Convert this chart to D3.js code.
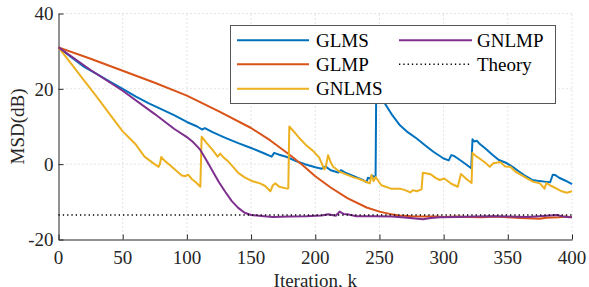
<!DOCTYPE html>
<html><head><meta charset="utf-8">
<script src="https://cdn.jsdelivr.net/npm/d3@7"></script>
<style>body{margin:0;background:#fff}svg{display:block}</style>
</head><body><svg id="c" width="589" height="287"></svg>
<script>
const xTicks = [0,50,100,150,200,250,300,350,400];
const yTicks = [-20,0,20,40];
const seriesNames = ["GLMS","GLMP","GNLMS","GNLMP"];
const theoryLevel = -13.5;

const glms = [[0,31],[10,28.4],[20,25.8],[30,23.9],[40,21.9],[50,20.0],[60,18.0],[70,16.2],[80,14.6],[90,13.0],[100,11.2],[108,10.0],[112,9.2],[114,9.6],[120,8.5],[130,7.0],[140,5.6],[150,4.3],[160,2.9],[166,2.0],[168,3.0],[172,2.5],[178,1.9],[185,0.8],[192,0.0],[200,-0.8],[205,-1.2],[208,-0.6],[212,-1.6],[218,-2.2],[220,-1.6],[223,-2.2],[230,-3.2],[237,-4.2],[240,-4.8],[241,-3.6],[243,-3.8],[244,-3.0],[246,-3.4],[247,-3.2],[247.5,20],[254.5,16],[260,13],[266,10.3],[272,8.5],[279,6.8],[286,4.9],[292,3.3],[300,1.5],[304,1.0],[306,2.4],[308,2.2],[311,1.5],[316,0.3],[321.5,-1.1],[322.5,6.6],[324,6.0],[326,6.2],[328,5.4],[333,4.0],[338,2.5],[343,1.1],[349,0.3],[354,-0.8],[359,-2.0],[364,-3.2],[369,-4.2],[375,-4.5],[380,-4.7],[383,-4.8],[385,-2.8],[387,-2.9],[390,-3.6],[395,-4.4],[400,-5.3]];

const glmp = [[0,31],[25,28],[50,24.8],[75,21.6],[100,18.2],[125,14],[150,9.6],[165,6.3],[180,2.5],[190,-0.2],[200,-3.2],[212,-6.2],[225,-9.0],[240,-11.5],[250,-12.6],[258,-13.2],[265,-13.6],[275,-13.8],[285,-13.9],[295,-13.9],[300,-14.0],[310,-13.9],[320,-14.0],[330,-14.1],[340,-13.9],[350,-14.1],[360,-14.3],[370,-14.4],[375,-14.5],[380,-14.2],[390,-14.1],[395,-13.9],[400,-14.1]];

const gnlms = [[0,31],[10,26.6],[20,22.2],[30,17.8],[40,13.2],[50,8.7],[55,7.0],[60,5.3],[67,2.0],[74,0.2],[78,-0.7],[79,0.0],[80,1.9],[83,0.8],[86,0.0],[90,-1.2],[96,-3.0],[99,-3.2],[101,-2.8],[104,-4.0],[107,-4.8],[110.5,-6.0],[111.5,7.3],[115,5.8],[120,3.8],[124,2.0],[126,2.8],[128,2.0],[132,0.8],[136,-0.7],[140,-2.3],[145,-3.5],[150,-4.4],[157,-5.1],[161,-5.8],[165,-7.2],[167,-5.6],[169,-5.1],[172,-6.0],[178,-6.5],[179,-6.4],[179.8,10.0],[184,8.4],[188,6.8],[193,5.0],[198,3.6],[203,1.8],[207,-1.4],[208,-1.0],[210,2.4],[212,0.5],[214,-0.7],[219,-2.0],[224,-2.7],[230,-3.5],[234,-3.9],[239,-4.6],[242.5,-5.1],[243.8,-2.9],[245.5,-4.5],[247,-3.4],[251.5,-5.6],[259,-6.5],[266,-6.5],[270,-6.9],[274,-7.5],[276,-6.9],[279,-7.2],[282.8,-6.7],[283.8,-2.3],[287,-2.5],[290,-2.7],[294,-3.7],[297,-4.2],[300.5,-3.8],[306,-5.2],[311,-6.0],[313.5,-2.6],[318,-4.0],[321.8,-5.0],[322.5,3.0],[325,2.2],[328,1.5],[332,0.5],[336,-0.7],[339,0.3],[341,0.4],[344,0.6],[348,-0.6],[352,-0.7],[356,-2.0],[360,-2.8],[365,-3.8],[370,-4.7],[375,-5.1],[378.6,-6.5],[380,-5.0],[384,-5.8],[388,-6.5],[392,-7.2],[396,-7.6],[400,-7.2]];

const gnlmp = [[0,31],[25,25],[50,19.5],[75,13.3],[90,9.4],[100,7.2],[105,5.8],[110,4.0],[115,1.2],[120,-1.8],[125,-4.8],[130,-7.4],[135,-9.8],[140,-11.6],[145,-12.9],[150,-13.5],[160,-13.8],[167,-14.0],[180,-13.9],[193,-13.8],[205,-13.6],[210,-13.3],[216,-13.7],[219,-12.6],[222,-13.2],[225,-13.3],[232,-13.8],[245,-13.8],[260,-13.9],[272,-14.2],[284,-14.6],[290,-14.3],[297,-14.1],[310,-14.0],[325,-13.9],[336,-13.8],[350,-13.9],[365,-14.0],[375,-13.8],[388,-13.5],[393,-13.9],[398,-14.1],[400,-14.0]];

const colors = ["#0072BD","#D95319","#EDB120","#7E2F8E"];
const allSeries = [glms, glmp, gnlms, gnlmp];
const FONT = '"Liberation Serif", serif';
const FS = 19;

const svg = d3.select("#c");
const x = d3.scaleLinear().domain([0,400]).range([58.5,572]);
const y = d3.scaleLinear().domain([-20,40]).range([239.5,13.5]);

function addText(parent, tx, ty, str, anchor, fill){
  return parent.append("text").attr("x",tx).attr("y",ty).attr("font-size",FS)
    .attr("text-anchor",anchor).attr("fill",fill).style("font-family",FONT).text(str);
}

// grid
const grid = svg.append("g").attr("stroke","#c8c8c8").attr("stroke-width",1).attr("stroke-dasharray","1,3");
xTicks.filter(d=>d>0).forEach(t=>grid.append("line").attr("x1",x(t)).attr("x2",x(t)).attr("y1",y(-20)).attr("y2",y(40)));
yTicks.filter(d=>d>-20).forEach(t=>grid.append("line").attr("x1",x(0)).attr("x2",x(400)).attr("y1",y(t)).attr("y2",y(t)));

// axes (lines and ticks from d3 axes, labels as plain text)
const xAxis = d3.axisBottom(x).tickValues(xTicks).tickSizeInner(-5).tickSizeOuter(0).tickFormat("");
const yAxis = d3.axisLeft(y).tickValues(yTicks).tickSizeInner(-5).tickSizeOuter(0).tickFormat("");
const gx = svg.append("g").attr("transform",`translate(0,${y(-20)})`).call(xAxis);
const gy = svg.append("g").attr("transform",`translate(${x(0)},0)`).call(yAxis);
[gx,gy].forEach(g=>{
  g.selectAll("text").remove();
  g.select(".domain").attr("stroke","#262626").attr("stroke-width",1);
  g.selectAll(".tick line").attr("stroke","#262626");
});
xTicks.forEach(t=>addText(svg, x(t), 263.5, String(t), "middle", "#262626"));
yTicks.forEach(t=>addText(svg, 53.5, y(t)+6.8, String(t), "end", "#262626"));

// lines
const line = d3.line().x(d=>x(d[0])).y(d=>y(d[1]));
allSeries.forEach((s,i)=>{
  svg.append("path").datum(s).attr("d",line).attr("fill","none").attr("stroke",colors[i]).attr("stroke-width",2).attr("stroke-linejoin","round");
});
svg.append("line").attr("x1",x(0)).attr("x2",x(400)).attr("y1",y(theoryLevel)).attr("y2",y(theoryLevel))
  .attr("stroke","#000").attr("stroke-width",1.5).attr("stroke-dasharray","1.3,3");

// labels
addText(svg, (x(0)+x(400))/2, 286.5, "Iteration, k", "middle", "#262626");
addText(svg, 0, 0, "MSD(dB)", "middle", "#262626").attr("transform",`translate(23.5,${(y(-20)+y(40))/2}) rotate(-90)`);

// legend
const lg = svg.append("g");
lg.append("rect").attr("x",230.5).attr("y",25.5).attr("width",325).attr("height",78).attr("fill","#fff").attr("stroke","#555").attr("stroke-width",1);
const entries = [
  {name:seriesNames[0],c:colors[0],col:0,row:0},
  {name:seriesNames[1],c:colors[1],col:0,row:1},
  {name:seriesNames[2],c:colors[2],col:0,row:2},
  {name:seriesNames[3],c:colors[3],col:1,row:0},
  {name:"Theory",c:"#000",col:1,row:1,dot:true}
];
const colX = [[237,309,316],[399,472,477]];
const rowBase = [46.7, 70.8, 95.3];
entries.forEach(e=>{
  const cy = rowBase[e.row] - 6.5;
  const l = lg.append("line").attr("x1",colX[e.col][0]).attr("x2",colX[e.col][1]).attr("y1",cy).attr("y2",cy).attr("stroke",e.c);
  if(e.dot) l.attr("stroke-width",1.5).attr("stroke-dasharray","1.3,3"); else l.attr("stroke-width",2);
  addText(lg, colX[e.col][2], rowBase[e.row], e.name, "start", "#000");
});
</script></body></html>
